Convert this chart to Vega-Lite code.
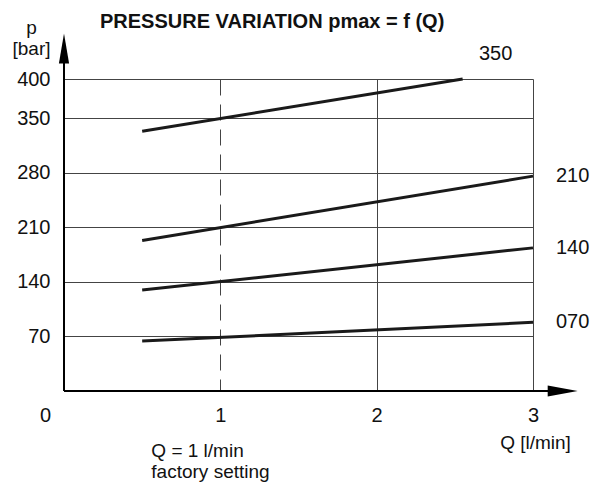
{
  "$schema": "https://vega.github.io/schema/vega-lite/v6.json",
  "width": 469,
  "height": 312,
  "autosize": {"type": "none"},
  "padding": {"left": 64, "top": 79, "right": 70, "bottom": 93},
  "background": "white",
  "config": {"view": {"stroke": null}, "font": "Liberation Sans"},
  "title": {
    "text": "PRESSURE VARIATION pmax = f (Q)",
    "anchor": "start",
    "frame": "group",
    "dx": 36,
    "offset": -30,
    "baseline": "alphabetic",
    "fontSize": 20,
    "fontWeight": "bold",
    "font": "Liberation Sans",
    "color": "#111111"
  },
  "data": {
    "values": [
      {"series": "350", "Q": 0.5, "p": 333},
      {"series": "350", "Q": 2.55, "p": 400},
      {"series": "210", "Q": 0.5, "p": 193},
      {"series": "210", "Q": 3, "p": 275.5},
      {"series": "140", "Q": 0.5, "p": 129.5},
      {"series": "140", "Q": 3, "p": 183.5},
      {"series": "070", "Q": 0.5, "p": 64},
      {"series": "070", "Q": 3, "p": 88}
    ]
  },
  "layer": [
    {
      "mark": {"type": "line", "color": "#1a1a1a", "strokeWidth": 3},
      "encoding": {
        "x": {
          "field": "Q",
          "type": "quantitative",
          "scale": {"domain": [0, 3], "nice": false},
          "axis": {
            "values": [0, 1, 2, 3],
            "format": "d",
            "grid": true,
            "gridColor": "#444444",
            "gridWidth": 1,
            "gridDash": {"condition": {"test": "datum.value === 1", "value": [16, 9]}, "value": []},
            "domain": false,
            "ticks": false,
            "labelFlush": false,
            "labelOffset": {"condition": {"test": "datum.value === 0", "value": -19}, "value": 0},
            "labelPadding": 30,
            "labelBaseline": "alphabetic",
            "labelFontSize": 20,
            "labelColor": "#111111",
            "labelFont": "Liberation Sans",
            "title": "Q [l/min]",
            "titleX": 471,
            "titleY": 57,
            "titleAlign": "center",
            "titleBaseline": "alphabetic",
            "titleFontSize": 19,
            "titleFontWeight": "normal",
            "titleColor": "#111111",
            "titleFont": "Liberation Sans"
          }
        },
        "y": {
          "field": "p",
          "type": "quantitative",
          "scale": {"domain": [0, 400], "nice": false},
          "axis": {
            "values": [70, 140, 210, 280, 350, 400],
            "grid": true,
            "gridColor": "#444444",
            "gridWidth": 1,
            "domain": false,
            "ticks": false,
            "labelPadding": 14,
            "labelBaseline": "middle",
            "labelFontSize": 20,
            "labelColor": "#111111",
            "labelFont": "Liberation Sans",
            "title": ["p", "[bar]"],
            "titleAngle": 0,
            "titleAlign": "center",
            "titleBaseline": "alphabetic",
            "titleX": -33,
            "titleY": -46,
            "titleLineHeight": 21,
            "titleFontSize": 19,
            "titleFontWeight": "normal",
            "titleColor": "#111111",
            "titleFont": "Liberation Sans"
          }
        },
        "detail": {"field": "series"}
      }
    },
    {
      "data": {"values": [{}]},
      "mark": {"type": "rule", "color": "#000000", "strokeWidth": 2},
      "encoding": {"x": {"datum": 0}, "y": {"datum": 0}, "y2": {"datum": 435}}
    },
    {
      "data": {"values": [{}]},
      "mark": {"type": "rule", "color": "#000000", "strokeWidth": 2},
      "encoding": {"x": {"datum": 0}, "x2": {"datum": 3.15}, "y": {"datum": 0}}
    },
    {
      "data": {"values": [{}]},
      "mark": {"type": "point", "filled": true, "color": "#000000", "opacity": 1, "size": 900, "strokeWidth": 0, "shape": "M0,-1L0.34,1L-0.34,1Z"},
      "encoding": {"x": {"datum": 0}, "y": {"datum": 439}}
    },
    {
      "data": {"values": [{}]},
      "mark": {"type": "point", "filled": true, "color": "#000000", "opacity": 1, "size": 900, "strokeWidth": 0, "shape": "M1,0L-1,0.36L-1,-0.36Z"},
      "encoding": {"x": {"datum": 3.19}, "y": {"datum": 0}}
    },
    {
      "transform": [{"filter": "datum.Q === 3"}],
      "mark": {"type": "text", "align": "left", "baseline": "middle", "dx": 23, "fontSize": 20, "fontWeight": "normal", "color": "#111111", "font": "Liberation Sans"},
      "encoding": {
        "x": {"field": "Q", "type": "quantitative"},
        "y": {"field": "p", "type": "quantitative"},
        "text": {"field": "series"}
      }
    },
    {
      "transform": [{"filter": "datum.series === '350' && datum.Q > 2"}],
      "mark": {"type": "text", "align": "center", "baseline": "middle", "dx": 33, "dy": -25, "fontSize": 20, "fontWeight": "normal", "color": "#111111", "font": "Liberation Sans"},
      "encoding": {
        "x": {"field": "Q", "type": "quantitative"},
        "y": {"field": "p", "type": "quantitative"},
        "text": {"field": "series"}
      }
    },
    {
      "data": {"values": [{}]},
      "mark": {"type": "text", "align": "left", "baseline": "alphabetic", "dx": -69, "dy": 66, "lineHeight": 21, "fontSize": 19, "fontWeight": "normal", "color": "#111111", "font": "Liberation Sans", "text": ["Q = 1 l/min", "factory setting"]},
      "encoding": {"x": {"datum": 1}, "y": {"datum": 0}}
    }
  ]
}
